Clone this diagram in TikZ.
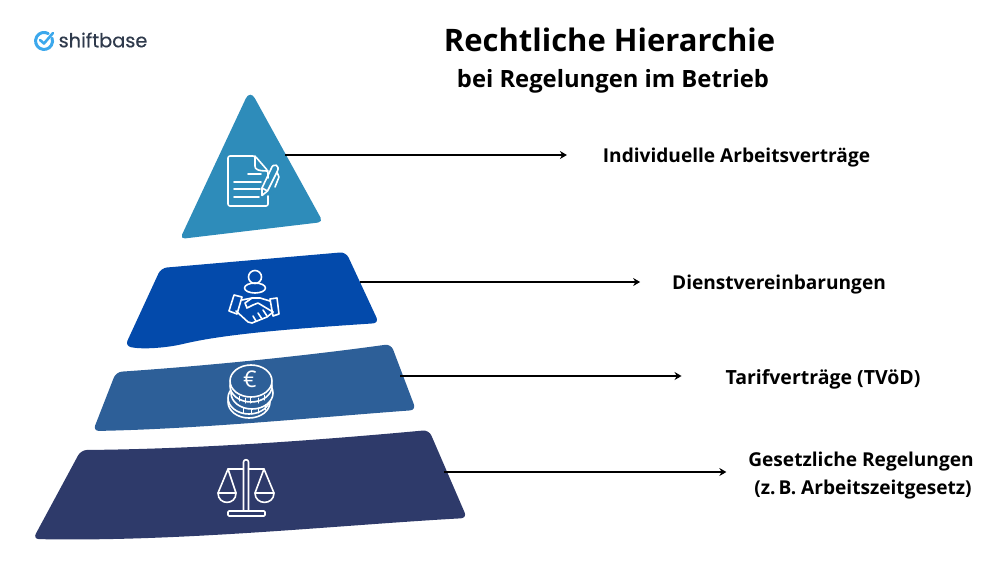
\documentclass[tikz,border=0pt]{standalone}
\usepackage{fontspec}
\setmainfont{Open Sans}
\newfontfamily\logofont[FakeBold=0.4]{Poppins}
\usetikzlibrary{arrows.meta}
\definecolor{tierone}{HTML}{2E8CBA}
\definecolor{tiertwo}{HTML}{034AAB}
\definecolor{tierthree}{HTML}{2D5F98}
\definecolor{tierfour}{HTML}{2E3A6A}
\definecolor{logoblue}{HTML}{3CA8EC}
\definecolor{logotext}{HTML}{2F3A4C}
\tikzset{
    tier/.style={rounded corners=6},
    icon/.style={draw=white,line width=1.6,line join=round,line cap=round},
    pointer/.style={-{Stealth[length=7,width=8]},line width=2.4,black},
    caption/.style={inner sep=0,align=center,font=\bfseries\fontsize{19.1}{28}\selectfont},
}
\begin{document}
\begin{tikzpicture}[x=1pt,y=-1pt]
    \useasboundingbox (0,0) rectangle (1000,562);
    \draw [line width=3,logoblue,line cap=round] (48.3,33.6) arc [start angle=-60,end angle=-380,radius=8.5];
    \draw [line width=2.6,logoblue,line cap=round,line join=round] (40,40) -- (44,43.5) -- (53,33);
    \node (logo) at (103,40) [inner sep=0,text=logotext] {\logofont\fontsize{19.3}{24}\selectfont shiftbase};
    \node (title) at (609.5,40) [inner sep=0,font=\bfseries\fontsize{31}{36}\selectfont] {Rechtliche Hierarchie};
    \node (subtitle) at (613,81) [inner sep=0,font=\bfseries\fontsize{23.8}{28}\selectfont] {bei Regelungen im Betrieb};
    \fill [tierone] (215,164.25) [rounded corners=10] -- (250,89.5) [rounded corners=5] -- (323,222) -- (180,239) -- cycle;
    \fill [tier,tiertwo] (161,268) -- (346,252) -- (379,323) .. controls (320,327) and (240,332) .. (187,343) .. controls (170,347) and (145,350) .. (125,346) -- cycle;
    \fill [tier,tierthree] (116,372) .. controls (190,367) and (290,358) .. (391,344) -- (416,410) .. controls (320,417) and (200,429) .. (93,431) -- cycle;
    \fill [tier,tierfour] (81,450) .. controls (200,449) and (320,440) .. (429,430) -- (467,518) .. controls (340,525) and (180,542) .. (33,539) -- cycle;
    \coordinate (tieronetip) at (285,155);
    \coordinate (tiertwotip) at (360,282);
    \coordinate (tierthreetip) at (400,376);
    \coordinate (tierfourtip) at (444,472);
    \node (contracts) at (736.5,158) [caption,outer xsep=36] {Individuelle Arbeitsverträge};
    \node (agreements) at (779,285) [caption,outer xsep=32] {Dienstvereinbarungen};
    \node (tariffs) at (823,379) [caption,outer xsep=44,font=\bfseries\fontsize{19.5}{28}\selectfont] {Tarifverträge (TVöD)};
    \node (statutes) at (861,476) [caption,outer xsep=22] {Gesetzliche Regelungen\\\hspace*{4pt}(z.\,B. Arbeitszeitgesetz)};
    \draw [pointer] (tieronetip) -- (tieronetip -| contracts.west);
    \draw [pointer] (tiertwotip) -- (tiertwotip -| agreements.west);
    \draw [pointer] (tierthreetip) -- (tierthreetip -| tariffs.west);
    \draw [pointer] (tierfourtip) -- (tierfourtip -| statutes.west);
    % document and pen
    \draw [icon,rounded corners=2] (268,196) -- (268,206) -- (228,206) -- (228,156) -- (255,156) -- (268,171) -- (268,178);
    \draw [icon] (255,156) -- (255,166) .. controls (255,169) and (257,171) .. (268,171);
    \draw [icon] (248,174) -- (261,174);
    \draw [icon] (234,182) -- (261,182);
    \draw [icon] (234,189) -- (260,189);
    \draw [icon] (234,197) -- (259,197);
    \draw [icon] (262,195.5) -- (262,188) -- (271,169) .. controls (273,162) and (281,165) .. (277,172) -- (267.5,191) -- cycle;
    \draw [icon] (262,188) -- (267.5,191);
    \draw [icon] (277,172) -- (279,177) -- (275,187);
    % person and handshake
    \draw [icon] (255,277) circle (6.5);
    \draw [icon] (255,288) ellipse [x radius=10.5,y radius=5];
    \draw [icon] (234,295) -- (242,297) -- (237,314) -- (229,311) -- cycle;
    \draw [icon] (270,299) -- (277,298) -- (279,314) -- (273,316) -- cycle;
    \draw [icon] (242,300) -- (252,298) -- (260,298) -- (270,301);
    \draw [icon] (252,298) -- (245,303) -- (247,308) -- (253,305) -- (258,303) -- (273,312);
    \draw [icon] (236,311) -- (248,322) -- (252,323) -- (267,317) -- (273,312);
    \draw [icon] (253,316) -- (256,321);
    \draw [icon] (258,313) -- (262,319);
    \draw [icon] (263,310) -- (267,316);
    % coins
    \draw [icon,fill=tierthree] (249,402) ellipse [x radius=21,y radius=16];
    \draw [icon,fill=tierthree] (249,398) ellipse [x radius=21,y radius=16];
    \draw [icon,fill=tierthree] (252,393) ellipse [x radius=21,y radius=16];
    \draw [icon,fill=tierthree] (251,386) ellipse [x radius=21,y radius=16];
    \draw [icon,fill=tierthree] (251,381) ellipse [x radius=21,y radius=16];
    \foreach \tickx/\ticky in {239/396,245/398,250/398,258/398,264/395}
        \draw [icon,line width=1] (\tickx,\ticky) -- +(0,5);
    \foreach \tickx/\ticky in {243/408,251/409,258/408,265/405}
        \draw [icon,line width=1] (\tickx,\ticky) -- +(0,5);
    \node (euro) at (250,379) [inner sep=0,text=white,font=\fontsize{23}{24}\selectfont] {€};
    % scales
    \draw [icon] (243.5,511) -- (243.5,462) .. controls (243.5,459) and (248.5,459) .. (248.5,462) -- (248.5,511);
    \draw [icon,rounded corners=1] (228,511) rectangle (265,516);
    \draw [icon] (243.5,469) -- (228,469) -- (218,493);
    \draw [icon] (228,469) -- (236,493);
    \draw [icon] (248.5,469) -- (264,469) -- (255,493);
    \draw [icon] (264,469) -- (274,493);
    \draw [icon] (218,493) .. controls (218,505.5) and (236,505.5) .. (236,493) -- cycle;
    \draw [icon] (255,493) .. controls (255,505.5) and (274,505.5) .. (274,493) -- cycle;
\end{tikzpicture}
\end{document}
